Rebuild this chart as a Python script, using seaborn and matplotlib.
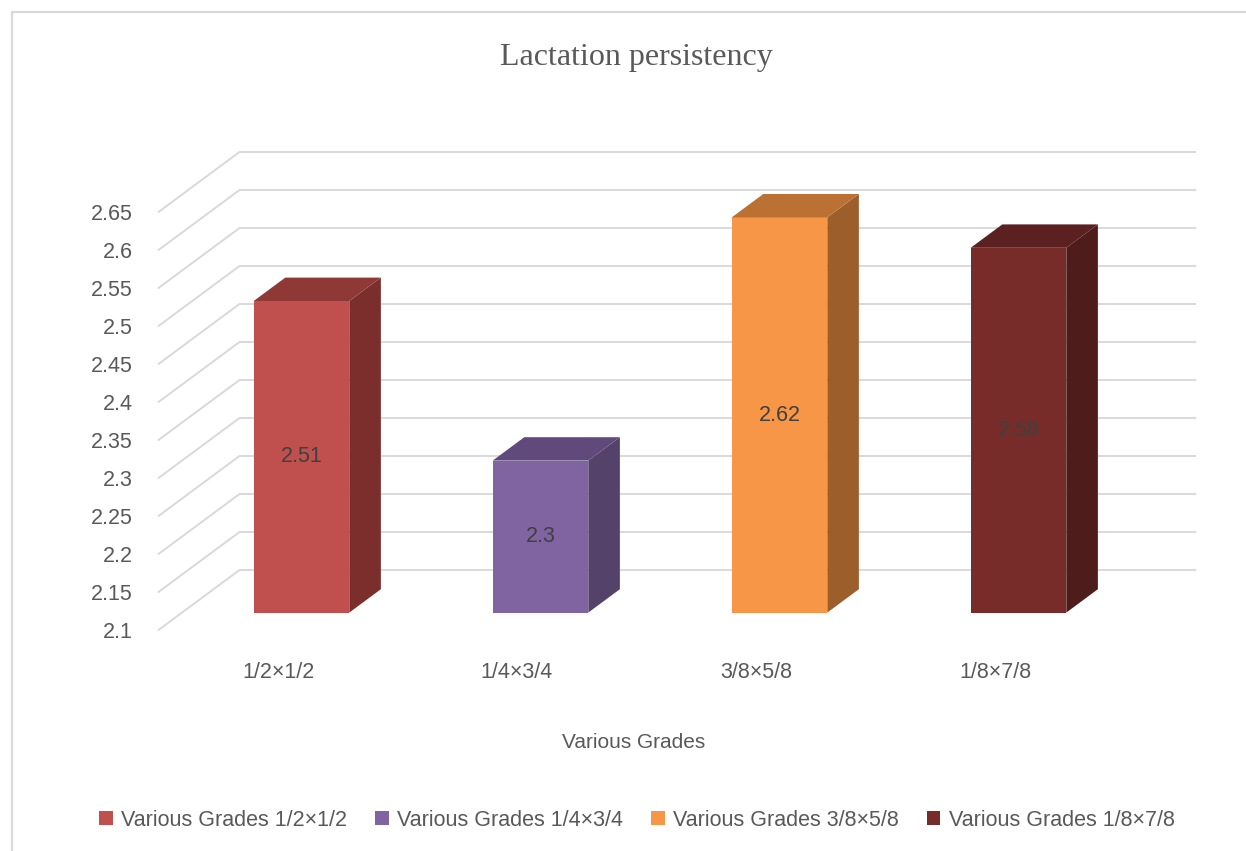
import matplotlib
matplotlib.use('Agg')
import matplotlib.pyplot as plt
import pandas as pd
import seaborn as sns
from matplotlib.lines import Line2D
from matplotlib.patches import Polygon

# Data
grades = ['1/2×1/2', '1/4×3/4', '3/8×5/8', '1/8×7/8']
persistency = [2.51, 2.3, 2.62, 2.58]
series_name = 'Various Grades'
y_ticks = [2.1, 2.15, 2.2, 2.25, 2.3, 2.35, 2.4, 2.45, 2.5, 2.55, 2.6, 2.65]

# Colours (front / side / top face of each bar)
front_colors = ['#C0504D', '#8064A2', '#F79646', '#772C2A']
side_colors = ['#7B2F2D', '#54426B', '#9C5F2C', '#4E1C1B']
top_colors = ['#8F3936', '#604A7C', '#BB7133', '#5B2120']
grid_color = '#D9D9D9'
text_color = '#595959'

# Geometry (pixels)
W, H = 1246, 851
ax_l, ax_t, ax_r, ax_b = 140, 120, 1210, 650
cat0_px, cat_step_px = 278, 239      # first category centre / spacing
base_px, px_per_unit = 630, 760      # front edge of the floor, vertical scale
depth_px = (81, 60)                  # wall depth vector
bar_shift, bar_depth = 0.29, 0.39    # bar position / thickness as fraction of depth

sns.set_style('white')
plt.rcParams['font.family'] = ['Liberation Sans', 'DejaVu Sans']

df = pd.DataFrame({'grade': grades, 'value': persistency})
base = y_ticks[0]

fig = plt.figure(figsize=(W / 100, H / 100), dpi=100)
ax = fig.add_axes([ax_l / W, 1 - ax_b / H, (ax_r - ax_l) / W, (ax_b - ax_t) / H])
ax.set_facecolor('none')

sns.barplot(data=df, x='grade', y='value', hue='grade', palette=front_colors,
            saturation=1, width=0.4, errorbar=None, legend=False,
            linewidth=0, ax=ax, zorder=3)

ax.set_xlim((ax_l - cat0_px) / cat_step_px, (ax_r - cat0_px) / cat_step_px)
ax.set_ylim(base - (ax_b - base_px) / px_per_unit, base + (base_px - ax_t) / px_per_unit)


def px(dx, dy):
    return dx / cat_step_px, dy / px_per_unit


# back wall + side wall gridlines
wx, wy = px(*depth_px)
x_left, x_right = -0.5, len(grades) - 0.5
for v in y_ticks:
    ax.plot([x_left, x_left + wx, x_right + wx], [v, v + wy, v + wy],
            color=grid_color, lw=1.4, zorder=1, solid_joinstyle='miter')

# 3D look for the bars
sx, sy = px(depth_px[0] * bar_shift, depth_px[1] * bar_shift)
bx, by = px(depth_px[0] * bar_depth, depth_px[1] * bar_depth)
for i, cont in enumerate(ax.containers):
    for bar in cont:
        h = bar.get_height()
        bar.set_x(bar.get_x() + sx)
        bar.set_y(base + sy)
        bar.set_height(h - base)
        x0, x1 = bar.get_x(), bar.get_x() + bar.get_width()
        y0, y1 = base + sy, h + sy
        ax.add_patch(Polygon([(x1, y0), (x1, y1), (x1 + bx, y1 + by), (x1 + bx, y0 + by)],
                             closed=True, facecolor=side_colors[i], lw=0, zorder=3))
        ax.add_patch(Polygon([(x0, y1), (x1, y1), (x1 + bx, y1 + by), (x0 + bx, y1 + by)],
                             closed=True, facecolor=top_colors[i], lw=0, zorder=3))
        ax.text((x0 + x1) / 2, (y0 + y1) / 2, f'{h:g}', ha='center', va='center',
                fontsize=15.5, color='#404040', zorder=5)

ax.set_yticks(y_ticks, labels=[f'{v:g}' for v in y_ticks])
ax.tick_params(length=0, labelsize=15.5, labelcolor=text_color)
ax.tick_params(axis='y', pad=5)
ax.tick_params(axis='x', pad=9)
for s in ax.spines.values():
    s.set_visible(False)
ax.set_ylabel('')
ax.set_xlabel(series_name, fontsize=15, color=text_color)
ax.xaxis.set_label_coords((634 - ax_l) / (ax_r - ax_l), -(742 - ax_b) / (ax_b - ax_t))
ax.xaxis.label.set_va('center')

fig.text(636 / W, 1 - 57 / H, 'Lactation persistency', ha='center', va='center',
         fontsize=23, color=text_color, family=['Liberation Serif', 'DejaVu Serif'])

handles = [cont[0] for cont in ax.containers]
labels = [f'{series_name} {g}' for g in grades]
fig.legend(handles, labels, loc='center', bbox_to_anchor=(637 / W, 1 - 820 / H),
           ncol=4, frameon=False, fontsize=15.5, labelcolor=text_color,
           handlelength=0.62, handleheight=0.62, handletextpad=0.4, columnspacing=1.3)

# chart border (top and left edges visible)
fig.add_artist(Line2D([11.5 / W, 11.5 / W], [0, 1 - 11.5 / H], color=grid_color, lw=1.6))
fig.add_artist(Line2D([11.5 / W, 1], [1 - 11.5 / H, 1 - 11.5 / H], color=grid_color, lw=1.6))

fig.savefig('out.png', dpi=100)
